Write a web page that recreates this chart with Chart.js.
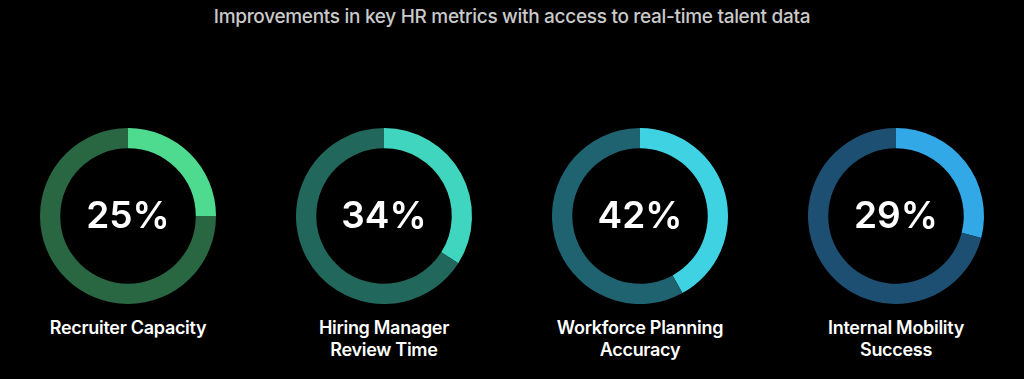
<!DOCTYPE html>
<html>
<head>
<meta charset="utf-8">
<script src="https://cdn.jsdelivr.net/npm/chart.js@4.4.1/dist/chart.umd.min.js"></script>
<style>
  html, body { margin:0; padding:0; background:#000; width:1024px; height:379px; overflow:hidden; font-family: Inter, "Open Sans", sans-serif; }
  #title { position:absolute; left:0; top:5px; width:1024px; text-align:center; color:#cacaca; font-size:19px; font-weight:500; letter-spacing:-0.3px; }
  .cell { position:absolute; width:256px; top:126px; }
  .cell canvas { display:block; }
  .lbl { position:absolute; width:256px; top:317px; text-align:center; color:#fff; font-size:18px; font-weight:600; line-height:22px; letter-spacing:-0.3px; }
</style>
</head>
<body>
<div id="title"></div>
<div id="wrap"></div>
<script>
const titleText = "Improvements in key HR metrics with access to real-time talent data";
const categories = [["Recruiter Capacity"], ["Hiring Manager", "Review Time"], ["Workforce Planning", "Accuracy"], ["Internal Mobility", "Success"]];
const values = [25, 34, 42, 29];
const fillColors = ["#4edb90", "#3fd5bf", "#3fd2e2", "#33a8e6"];
const trackColors = ["#286741", "#22675c", "#1f6270", "#1d4f73"];

document.getElementById('title').textContent = titleText;
const wrap = document.getElementById('wrap');

const centerText = {
  id: 'centerText',
  afterDraw(chart, args, opts) {
    const meta = chart.getDatasetMeta(0);
    const arc = meta.data[0];
    const ctx = chart.ctx;
    ctx.save();
    ctx.fillStyle = '#ffffff';
    ctx.font = '600 37px Inter, "Open Sans", sans-serif';
    ctx.textAlign = 'center';
    ctx.textBaseline = 'middle';
    ctx.fillText(opts.text, arc.x, arc.y + 1);
    ctx.restore();
  }
};

categories.forEach((cat, i) => {
  const cell = document.createElement('div');
  cell.className = 'cell';
  cell.style.left = (i * 256) + 'px';
  const cv = document.createElement('canvas');
  cv.width = 256; cv.height = 180;
  cv.style.width = '256px'; cv.style.height = '180px';
  cell.appendChild(cv);
  wrap.appendChild(cell);

  const lbl = document.createElement('div');
  lbl.className = 'lbl';
  lbl.style.left = (i * 256) + 'px';
  lbl.innerHTML = cat.map(s => s.replace(/&/g,'&amp;')).join('<br>');
  wrap.appendChild(lbl);

  new Chart(cv, {
    type: 'doughnut',
    data: {
      labels: ['value', 'rest'],
      datasets: [{
        data: [values[i], 100 - values[i]],
        backgroundColor: [fillColors[i], trackColors[i]],
        borderWidth: 0
      }]
    },
    options: {
      responsive: false,
      animation: false,
      cutout: '77%',
      layout: { padding: 2 },
      plugins: {
        legend: { display: false },
        tooltip: { enabled: false },
        centerText: { text: values[i] + '%' }
      }
    },
    plugins: [centerText]
  });
});
</script>
</body>
</html>
